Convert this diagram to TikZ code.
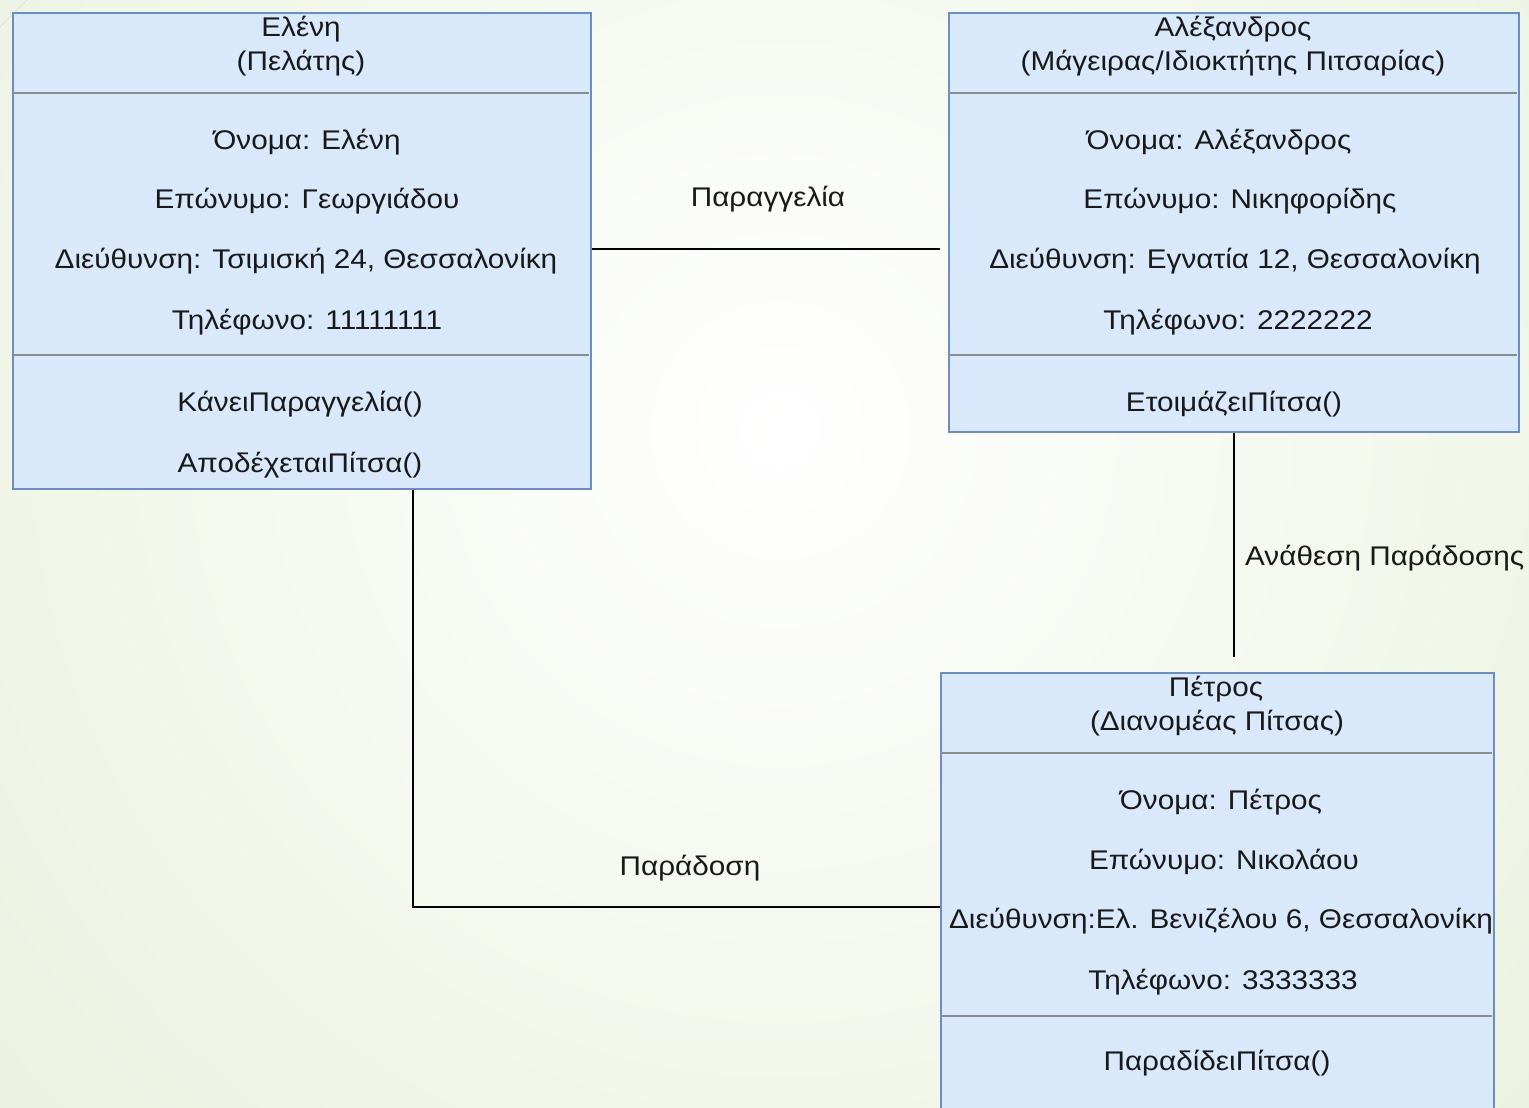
\documentclass[tikz,border=0pt]{standalone}
\usepackage{fontspec}
\setmainfont{Liberation Sans}[FakeStretch=1.1]
\begin{document}
\definecolor{bggreen}{HTML}{E2ECD2}
\definecolor{boxfill}{HTML}{DAE8FC}
\definecolor{boxline}{HTML}{6C8EBF}
\definecolor{rulegray}{HTML}{8C8C8C}
\tikzset{
  umlbox/.style={draw=boxline, fill=boxfill, line width=1.6pt, inner sep=0pt, anchor=north west},
  divider/.style={draw=rulegray, line width=1.6pt},
  txt/.style={font=\fontsize{27}{31}\selectfont, inner sep=0pt, yshift=-2pt, text=black!90},
  conn/.style={draw=black, line width=1.8pt},
}
\begin{tikzpicture}[x=1pt,y=-1pt]
\useasboundingbox (0,0) rectangle (1529,1108);
\clip (0,0) rectangle (1529,1108);
% background
\fill[bggreen] (0,0) rectangle (1529,1108);
\shade[inner color=white, outer color=bggreen] (780,430) circle (1500);
\draw[color=black!12, line width=0.8pt] (0,27) -- (27,0);

% class boxes
\node[umlbox, minimum width=578, minimum height=476] (eleni) at (12,12) {};
\node[umlbox, minimum width=570, minimum height=419] (alex) at (948,12) {};
\node[umlbox, minimum width=553, minimum height=460] (petros) at (940,672) {};

% compartment rules
\draw[divider] (12.8,93) -- (589.2,93);
\draw[divider] (12.8,355) -- (589.2,355);
\draw[divider] (948.8,93) -- (1517.2,93);
\draw[divider] (948.8,355) -- (1517.2,355);
\draw[divider] (940.8,753) -- (1492.2,753);
\draw[divider] (940.8,1016) -- (1492.2,1016);

% Eleni
\node[txt] (e1) at (301,27) {Ελένη};
\node[txt] (e2) at (301,61) {(Πελάτης)};
\node[txt] (e3) at (307,140) {Όνομα: Ελένη};
\node[txt] (e4) at (307,199) {Επώνυμο: Γεωργιάδου};
\node[txt] (e5) at (306,259) {Διεύθυνση: Τσιμισκή 24, Θεσσαλονίκη};
\node[txt] (e6) at (307,320) {Τηλέφωνο: 11111111};
\node[txt] (e7) at (300,402) {ΚάνειΠαραγγελία()};
\node[txt] (e8) at (300,463) {ΑποδέχεταιΠίτσα()};

% Alexandros
\node[txt] (a1) at (1233,27) {Αλέξανδρος};
\node[txt] (a2) at (1233,61) {(Μάγειρας/Ιδιοκτήτης Πιτσαρίας)};
\node[txt] (a3) at (1219,140) {Όνομα: Αλέξανδρος};
\node[txt] (a4) at (1240,199) {Επώνυμο: Νικηφορίδης};
\node[txt] (a5) at (1235,259) {Διεύθυνση: Εγνατία 12, Θεσσαλονίκη};
\node[txt] (a6) at (1238,320) {Τηλέφωνο: 2222222};
\node[txt] (a7) at (1234,402) {ΕτοιμάζειΠίτσα()};

% Petros
\node[txt] (p1) at (1216,687) {Πέτρος};
\node[txt] (p2) at (1217,721) {(Διανομέας Πίτσας)};
\node[txt] (p3) at (1221,800) {Όνομα: Πέτρος};
\node[txt] (p4) at (1224,860) {Επώνυμο: Νικολάου};
\node[txt] (p5) at (1221,919) {Διεύθυνση:Ελ. Βενιζέλου 6, Θεσσαλονίκη};
\node[txt] (p6) at (1223,980) {Τηλέφωνο: 3333333};
\node[txt] (p7) at (1217,1061) {ΠαραδίδειΠίτσα()};

% associations
\coordinate (ordEnd) at (940,249);
\coordinate (assignEnd) at (1234,657);
\draw[conn] (eleni.east |- ordEnd) -- (ordEnd);
\node[txt] (lOrder) at (768,197) {Παραγγελία};
\draw[conn] (alex.south -| assignEnd) -- (assignEnd);
\node[txt, anchor=west] (lAssign) at (1245,556) {Ανάθεση Παράδοσης};
\coordinate (delivStart) at (413,488);
\coordinate (delivEnd) at (940,907);
\draw[conn] (eleni.south -| delivStart) -- (delivStart |- delivEnd) -- (petros.west |- delivEnd);
\node[txt] (lDeliv) at (690,866) {Παράδοση};
\end{tikzpicture}
\end{document}
